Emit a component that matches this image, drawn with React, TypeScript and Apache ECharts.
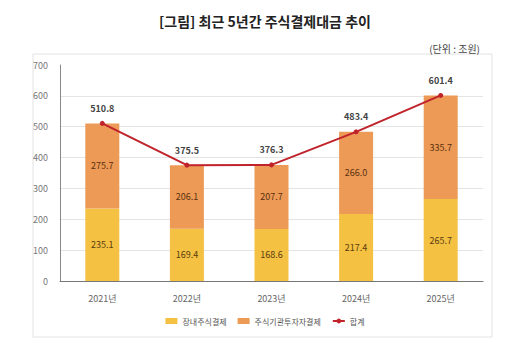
import React, { useEffect, useRef } from "react";
import * as echarts from "echarts";

const categories = ["2021년", "2022년", "2023년", "2024년", "2025년"];
const domestic = [235.1, 169.4, 168.6, 217.4, 265.7];
const institutional = [275.7, 206.1, 207.7, 266.0, 335.7];
const totals = [510.8, 375.5, 376.3, 483.4, 601.4];
const seriesNames = ["장내주식결제", "주식기관투자자결제", "합계"];
const titleText = "[그림] 최근 5년간 주식결제대금 추이";
const unitText = "(단위 : 조원)";

const FONT = "'Noto Sans CJK KR', 'Noto Sans', sans-serif";

export default function App() {
  const ref = useRef<HTMLDivElement>(null);
  useEffect(() => {
    if (!ref.current) return;
    const chart = echarts.init(ref.current, undefined, { renderer: "svg" });
    chart.setOption({
      animation: false,
      backgroundColor: "#ffffff",
      textStyle: { fontFamily: FONT },
      title: [
        {
          text: titleText,
          left: "center",
          top: 9,
          textStyle: { fontSize: 14, fontWeight: "bold", color: "#222", fontFamily: FONT },
        },
        {
          text: unitText,
          right: 45,
          top: 38,
          textStyle: { fontSize: 10, fontWeight: "normal", color: "#444", fontFamily: FONT },
        },
      ],
      graphic: [
        {
          type: "rect",
          shape: { x: 33, y: 54, width: 459, height: 283 },
          style: { fill: "none", stroke: "#e2e2e2", lineWidth: 1 },
          silent: true,
          z: -1,
        },
      ],
      legend: {
        bottom: 23,
        left: "center",
        itemWidth: 12,
        itemHeight: 6,
        itemGap: 11,
        textStyle: { fontSize: 8, color: "#555", fontFamily: FONT },
        data: [
          { name: seriesNames[0], icon: "rect" },
          { name: seriesNames[1], icon: "rect" },
          { name: seriesNames[2] },
        ],
      },
      grid: { left: 60, right: 47, top: 65, bottom: 72 },
      xAxis: {
        type: "category",
        data: categories,
        axisLine: { lineStyle: { color: "#777", width: 1 } },
        axisTick: { show: false },
        axisLabel: { fontSize: 9, color: "#666", margin: 13, fontFamily: FONT },
      },
      yAxis: {
        type: "value",
        min: 0,
        max: 700,
        interval: 100,
        axisLine: { show: true, lineStyle: { color: "#888", width: 1 } },
        axisTick: { show: false },
        axisLabel: { fontSize: 9, color: "#777", margin: 12, fontFamily: FONT },
        splitLine: {
          lineStyle: {
            color: ["#e4e4e4", "#e4e4e4", "#e4e4e4", "#e4e4e4", "#e4e4e4", "#e4e4e4", "#e4e4e4", "rgba(0,0,0,0)"],
            width: 1,
          },
        },
      },
      series: [
        {
          name: seriesNames[0],
          type: "bar",
          stack: "total",
          data: domestic,
          barWidth: 34,
          itemStyle: { color: "#F4C142" },
          label: {
            show: true,
            position: "inside",
            fontSize: 9,
            color: "#5a3d10",
            fontFamily: FONT,
            formatter: (p: any) => p.value.toFixed(1),
          },
        },
        {
          name: seriesNames[1],
          type: "bar",
          stack: "total",
          data: institutional,
          barWidth: 34,
          itemStyle: { color: "#EC9A55" },
          label: {
            show: true,
            position: "inside",
            fontSize: 9,
            color: "#5a3010",
            fontFamily: FONT,
            formatter: (p: any) => p.value.toFixed(1),
          },
        },
        {
          name: seriesNames[2],
          type: "line",
          data: totals,
          symbol: "circle",
          symbolSize: 5,
          lineStyle: { color: "#C0232B", width: 2 },
          itemStyle: { color: "#C0232B" },
          z: 5,
          label: {
            show: true,
            position: "top",
            distance: 8,
            fontSize: 9,
            fontWeight: "bold",
            color: "#444",
            fontFamily: FONT,
            formatter: (p: any) => p.value.toFixed(1),
          },
        },
      ],
    });
    return () => chart.dispose();
  }, []);
  return <div ref={ref} style={{ width: 530, height: 353, position: "absolute", left: 0, top: 0 }} />;
}
